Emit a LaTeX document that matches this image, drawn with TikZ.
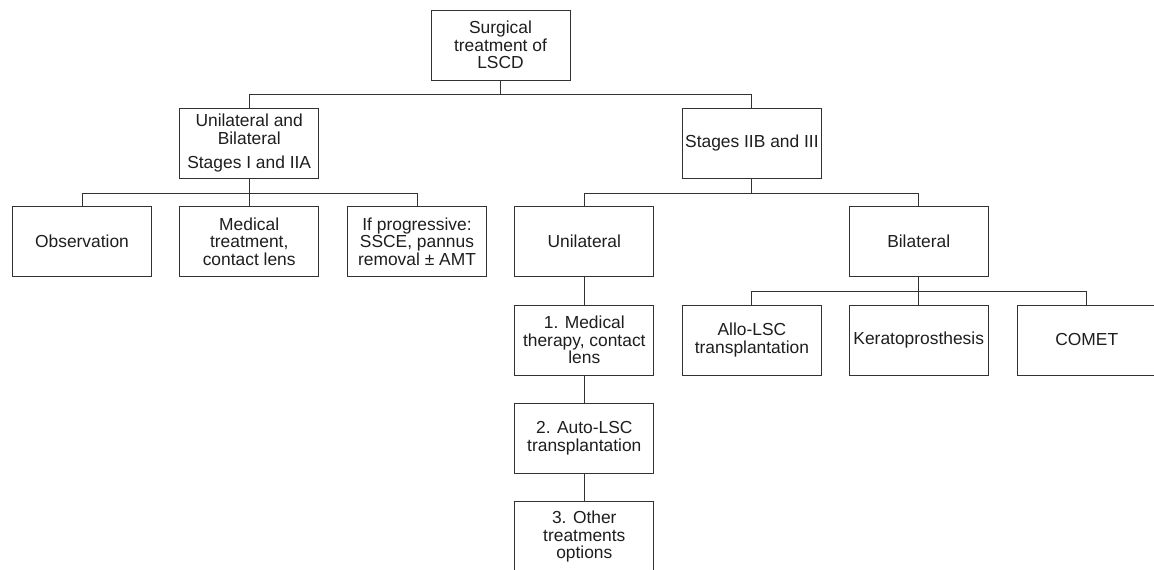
\documentclass[tikz,border=0pt]{standalone}
\usepackage{fontspec}
\setmainfont{Liberation Sans}
\usepackage{tikz}
\usetikzlibrary{positioning}
\definecolor{boxline}{RGB}{50,50,50}
\definecolor{boxtext}{RGB}{30,30,30}

\tikzset{
    box/.style={draw=boxline, line width=1pt, rectangle, minimum width=139pt,
        minimum height=70pt, inner sep=2pt, align=center, text=boxtext,
        font=\fontsize{17.4}{17.5}\selectfont},
    link/.style={draw=boxline, line width=1pt}
}

\begin{document}
\begin{tikzpicture}[x=1pt, y=-1pt]
    % Frame
    \clip (0,0) rectangle (1154,570);
    \fill[white] (0,0) rectangle (1154,570);
    % Root
    \node[box] (root) at (500.5,45) {Surgical\\treatment of\\LSCD};
    % Stages
    \node[box] (early) at (249.2,143.3) {Unilateral and\\Bilateral\\[7pt]Stages I and IIA};
    \node[box] (late) at (751.9,143.3) {Stages IIB and III};
    % Early stage options
    \node[box] (obs) at (82,241.7) {Observation};
    \node[box] (med) at (249.2,241.7) {Medical\\treatment,\\contact lens};
    \node[box] (prog) at (417,241.7) {If progressive:\\SSCE, pannus\\removal ± AMT};
    % Late stage split
    \node[box] (uni) at (584.3,241.7) {Unilateral};
    \node[box] (bil) at (918.7,241.7) {Bilateral};
    % Unilateral steps
    \node[box] (uone) at (584.3,340) {1. Medical\\therapy, contact\\lens};
    \node[box] (utwo) at (584.3,438.3) {2. Auto-LSC\\transplantation};
    \node[box] (uthree) at (584.3,536.7) {3. Other\\treatments\\options};
    % Bilateral options
    \node[box] (allo) at (751.9,340) {Allo-LSC\\transplantation};
    \node[box] (kpro) at (918.7,340) {Keratoprosthesis};
    \node[box] (comet) at (1086.8,340) {COMET};
    % Connectors
    \draw[link] (root.south) -- ++(0,14.2) -| (early.north);
    \draw[link] (root.south) -- ++(0,14.2) -| (late.north);
    \foreach \n in {obs,med,prog}
        \draw[link] (early.south) -- ++(0,14.2) -| (\n.north);
    \foreach \n in {uni,bil}
        \draw[link] (late.south) -- ++(0,14.2) -| (\n.north);
    \draw[link] (uni.south) -- (uone.north);
    \draw[link] (uone.south) -- (utwo.north);
    \draw[link] (utwo.south) -- (uthree.north);
    \foreach \n in {allo,kpro,comet}
        \draw[link] (bil.south) -- ++(0,14.2) -| (\n.north);
\end{tikzpicture}
\end{document}
